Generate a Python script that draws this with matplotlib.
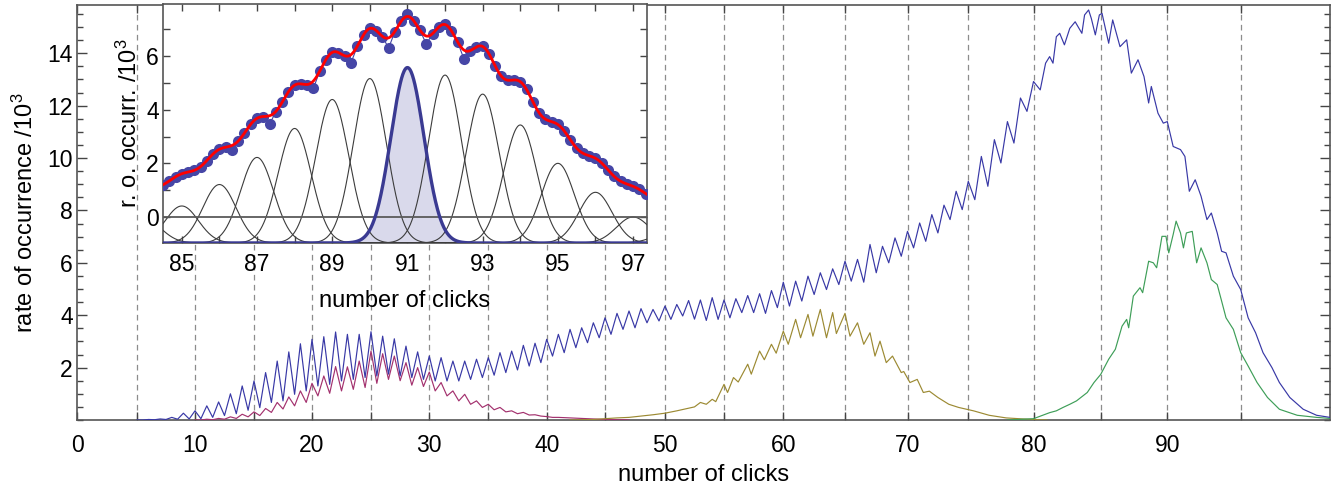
import numpy as np
import matplotlib
matplotlib.use("Agg")
import matplotlib.pyplot as plt
from matplotlib.ticker import FixedLocator, MultipleLocator

plt.rcParams['font.family'] = ['Liberation Sans', 'DejaVu Sans']
plt.rcParams['mathtext.fontset'] = 'custom'
plt.rcParams['mathtext.rm'] = 'Liberation Sans'
plt.rcParams['mathtext.it'] = 'Liberation Sans'

# ---------------- main-panel data (rate of occurrence / 10^3) ----------------
blue_x1 = np.arange(5.0, 81.0, 0.5)
blue_y1 = [0.0, 0.0, 0.02, 0.01, 0.04, 0.02, 0.10, 0.03, 0.26, 0.04,
           0.35, 0.05, 0.54, 0.10, 0.69, 0.17, 1.00, 0.24, 1.30, 0.37,
           1.49, 0.47, 1.81, 0.67, 2.25, 0.73, 2.60, 0.98, 2.91, 1.11,
           3.08, 1.30, 3.18, 1.36, 3.36, 1.49, 3.27, 1.55, 3.27, 1.62,
           3.37, 1.68, 3.20, 1.75, 3.10, 1.68, 2.82, 1.62, 2.60, 1.55,
           2.44, 1.49, 2.38, 1.49, 2.25, 1.49, 2.25, 1.55, 2.32, 1.62,
           2.38, 1.71, 2.57, 1.81, 2.63, 1.91, 2.85, 2.06, 2.93, 2.19,
           3.08, 2.44, 3.27, 2.57, 3.46, 2.76, 3.52, 2.95, 3.71, 3.14,
           3.90, 3.27, 4.07, 3.46, 4.16, 3.52, 4.25, 3.71, 4.22, 3.78,
           4.35, 3.84, 4.41, 3.97, 4.56, 3.85, 4.58, 3.80, 4.67, 3.84,
           4.58, 3.90, 4.63, 4.10, 4.75, 4.10, 4.82, 4.07, 4.94, 4.29,
           5.26, 4.35, 5.30, 4.54, 5.49, 4.79, 5.62, 4.98, 5.77, 5.17,
           6.06, 5.30, 6.13, 5.26, 6.70, 5.62, 6.63, 6.00, 6.95, 6.25,
           7.20, 6.57, 7.52, 6.82, 7.84, 7.14, 8.20, 7.65, 8.73, 8.03,
           9.11, 8.41, 10.06, 8.92, 10.70, 9.81, 11.39, 10.57, 12.29, 11.78,
           12.92, 12.60]
blue_x2 = [80.9, 81.2, 81.45, 81.7, 81.95, 82.3, 82.7, 83.1, 83.6, 83.8,
           84.1, 84.3, 84.6, 84.9, 85.1, 85.6, 85.9, 86.45, 86.95, 87.3,
           87.8, 88.25, 88.6, 88.8, 89.3, 89.7, 90.0, 90.4, 90.9, 91.2,
           91.5, 91.9, 92.3, 92.7, 93.0, 93.4, 93.7, 94.0, 94.5, 95.0,
           95.5, 96.0, 96.5, 97.1, 97.6, 98.3, 99.2, 100.1, 101.0]
blue_y2 = [13.62, 13.87, 13.62, 14.63, 14.76, 14.32, 14.95, 15.20, 14.76, 15.46,
           15.65, 15.33, 14.70, 15.46, 15.52, 14.38, 15.27, 14.25, 14.51, 13.24,
           13.75, 13.11, 12.10, 12.73, 11.71, 11.33, 11.39, 10.44, 10.32, 10.06,
           8.73, 9.17, 8.54, 7.65, 7.90, 7.14, 6.44, 6.38, 5.49, 4.98,
           3.90, 3.33, 2.57, 2.00, 1.43, 0.86, 0.41, 0.18, 0.10]

red_x = np.arange(10.0, 47.5, 0.5)
red_y = [0.0, 0.0, 0.03, 0.01, 0.06, 0.03, 0.12, 0.06, 0.22, 0.12,
         0.31, 0.17, 0.44, 0.29, 0.67, 0.42, 0.88, 0.54, 1.11, 0.67,
         1.40, 0.92, 1.68, 1.02, 2.04, 1.11, 2.03, 1.17, 2.25, 1.24,
         2.63, 1.40, 2.53, 1.55, 2.44, 1.50, 2.19, 1.33, 2.00, 1.28,
         1.83, 1.11, 1.43, 0.92, 1.11, 0.73, 0.98, 0.60, 0.73, 0.48,
         0.60, 0.39, 0.48, 0.31, 0.35, 0.24, 0.29, 0.19, 0.20, 0.15,
         0.13, 0.10, 0.10, 0.09, 0.08, 0.07, 0.06, 0.05, 0.04, 0.03,
         0.02, 0.02, 0.01, 0.01, 0.0]

olive_x = [42, 44, 45, 46, 47, 48, 49, 50, 51, 52, 52.5, 53, 53.5, 54, 54.3,
           55, 55.3, 55.8, 56.2, 57, 57.3, 58, 58.4, 59, 59.4, 60, 60.4, 61,
           61.4, 62, 62.4, 63, 63.5, 64, 64.3, 65, 65.4, 66, 66.5, 67, 67.4,
           67.8, 68.3, 68.8, 69.5, 69.7, 70.2, 70.8, 71.3, 71.8, 72.5, 73.4,
           74.2, 75.4, 76.6, 77.9, 79.2, 80, 81]
olive_y = [0.0, 0.02, 0.05, 0.08, 0.10, 0.15, 0.20, 0.26, 0.35, 0.45, 0.50,
           0.67, 0.60, 0.79, 0.70, 1.36, 1.05, 1.62, 1.45, 2.13, 1.75, 2.63,
           2.30, 2.89, 2.55, 3.39, 2.89, 3.84, 3.14, 4.03, 3.20, 4.22, 3.14,
           4.10, 3.30, 4.07, 3.20, 3.71, 2.89, 3.33, 2.44, 3.01, 2.19, 2.44,
           1.81, 1.85, 1.43, 1.55, 1.05, 1.10, 0.86, 0.60, 0.48, 0.35, 0.18,
           0.08, 0.04, 0.02, 0.0]

green_x = [78, 80, 81.2, 81.7, 82.2, 82.7, 83.2, 84.0, 84.5, 85.0, 85.6, 86.1,
           86.6, 86.95, 87.1, 87.45, 87.95, 88.15, 88.6, 88.95, 89.2, 89.6,
           89.9, 90.1, 90.4, 90.6, 90.9, 91.1, 91.3, 91.7, 92.0, 92.3, 92.7,
           93.0, 93.4, 93.7, 94.0, 94.5, 95.0, 95.5, 96.1, 96.8, 97.6, 98.8,
           100.1, 101.0]
green_y = [0.0, 0.05, 0.28, 0.35, 0.48, 0.60, 0.73, 1.05, 1.43, 1.74, 2.32,
           2.70, 3.58, 3.84, 3.52, 4.73, 5.05, 4.86, 6.06, 6.00, 5.81, 7.01,
           7.01, 6.38, 7.08, 7.59, 7.14, 6.57, 7.14, 7.20, 6.00, 6.57, 6.00,
           5.36, 5.17, 4.54, 3.90, 3.46, 2.57, 2.06, 1.43, 0.86, 0.41, 0.18,
           0.10, 0.06]

main_xticks = list(range(0, 100, 10))
main_xminor = list(range(5, 100, 10))
main_yticks = list(range(2, 16, 2))
grid_lines = list(range(5, 100, 5))

# ---------------- inset data ----------------
inset_x = 84.5 + np.arange(78) / 6.0
inset_y = [1.20, 1.34, 1.50,
           1.61, 1.67, 1.74, 1.85, 2.10, 2.36,
           2.53, 2.60, 2.50, 2.83, 3.13, 3.46,
           3.68, 3.74, 3.45, 3.93, 4.27, 4.67,
           4.92, 4.96, 4.93, 4.80, 5.43, 5.87,
           6.14, 6.13, 6.00, 5.75, 6.36, 6.79,
           7.03, 6.95, 6.72, 6.30, 6.91, 7.29,
           7.55, 7.31, 6.96, 6.45, 6.82, 7.08,
           7.18, 6.95, 6.52, 5.90, 6.19, 6.34,
           6.36, 6.09, 5.62, 5.24, 5.09, 5.11,
           5.05, 4.76, 4.30, 3.88, 3.64, 3.55,
           3.45, 3.21, 2.87, 2.56, 2.37, 2.28,
           2.19, 2.01, 1.76, 1.51, 1.33, 1.23,
           1.14, 1.03, 0.87]
peak_centers = list(range(84, 99))
peak_tops = [-0.07, 0.41, 1.21, 2.22, 3.30, 4.38, 5.16, 5.57, 5.29, 4.58,
             3.43, 2.00, 0.92, 0.00, -0.57]
peak_width = 0.44
peak_base = -0.97
highlight_center = 91
inset_xticks = list(range(85, 98, 2))
inset_xminor = list(range(86, 97, 2))
inset_yticks = [0, 2, 4, 6]
inset_yminor = [-1, 1, 3, 5, 7]

# ---------------- figure ----------------
W, H = 1343, 490
fig = plt.figure(figsize=(W / 100, H / 100), dpi=100)
ax = fig.add_axes([77 / W, 1 - 420 / H, 1253 / W, 415 / H])

# the click axis of the main panel is not uniformly spaced
scale_vals = [-20, 0, 5, 10, 15, 20, 25, 30, 35, 40, 45, 50, 55, 60, 65, 70,
              75, 80, 85, 90, 95, 101, 130]
scale_pos = [-158, 77, 137, 195, 254, 312, 371, 429.3, 488.3, 546.7, 605, 665,
             724, 783.3, 845, 907.5, 968.3, 1033.5, 1100.7, 1167.3, 1240.7,
             1330, 1762]


def fwd(x):
    return np.interp(np.asarray(x, float), scale_vals, scale_pos)


def inv(p):
    return np.interp(np.asarray(p, float), scale_pos, scale_vals)


ax.set_xscale('function', functions=(fwd, inv))
ax.set_xlim(0, 101)
ax.set_ylim(0, 15.84)

for v in grid_lines:
    ax.axvline(v, color='#8c8c8c', lw=0.9, ls=(0, (4.5, 3.5)), zorder=1)

lw = 0.85
kw = dict(lw=lw, solid_joinstyle='round')
ax.plot(red_x, red_y, color='#A3316E', zorder=3, **kw)
ax.plot(olive_x, olive_y, color='#9C8A33', zorder=3, **kw)
ax.plot(green_x, green_y, color='#3E9E58', zorder=3, **kw)
ax.plot(np.concatenate([blue_x1, blue_x2]), np.concatenate([blue_y1, blue_y2]),
        color='#3838A6', zorder=4, **kw)

ax.xaxis.set_major_locator(FixedLocator(main_xticks))
ax.xaxis.set_minor_locator(FixedLocator(main_xminor))
ax.yaxis.set_major_locator(FixedLocator(main_yticks))
ax.yaxis.set_minor_locator(MultipleLocator(0.5))
ax.tick_params(which='both', direction='in', top=True, right=True, color='#444444', width=1)
ax.tick_params(axis='x', which='both', length=6, labelsize=16.5, pad=10)
ax.tick_params(axis='y', which='major', length=7.5, labelsize=16.5, pad=3)
ax.tick_params(axis='y', which='minor', length=4)
for s in ax.spines.values():
    s.set_color('#555555')
    s.set_linewidth(1.2)
ax.set_xlabel('number of clicks', fontsize=17, labelpad=5)
ax.set_ylabel('rate of occurrence /10$^3$', fontsize=17, labelpad=7)

# ---------------- inset ----------------
axin = fig.add_axes([163 / W, 1 - 243 / H, 484 / W, 239 / H])
axin.set_xlim(84.5, 97.37)
axin.set_ylim(-0.97, 7.94)
xs = np.linspace(84.5, 97.37, 1200)
fit = np.zeros_like(xs)
for c, p in zip(peak_centers, peak_tops):
    shape = np.exp(-(xs - c) ** 2 / (2 * peak_width ** 2))
    comp = peak_base + (p - peak_base) * shape
    fit += (p - peak_base) * shape
    if c == highlight_center:
        axin.fill_between(xs, peak_base, comp, color='#D9D9EB', lw=0, zorder=2)
        axin.plot(xs, comp, color='#3A3A92', lw=2.4, zorder=5)
    else:
        axin.plot(xs, comp, color='#3C3C3C', lw=0.8, zorder=3)
axin.axhline(0, color='#5a5a5a', lw=1.3, zorder=4)
axin.plot(inset_x, inset_y, '-', color='#4343A3', lw=0.8, zorder=6)
axin.plot(inset_x, inset_y, 'o', color='#4646A6', ms=8, mec='none', zorder=6)
axin.plot(xs, fit, color='#FF0000', lw=2.0, zorder=7)

axin.xaxis.set_major_locator(FixedLocator(inset_xticks))
axin.xaxis.set_minor_locator(FixedLocator(inset_xminor))
axin.yaxis.set_major_locator(FixedLocator(inset_yticks))
axin.yaxis.set_minor_locator(FixedLocator(inset_yminor))
axin.tick_params(which='both', direction='in', top=True, right=True, color='#444444', width=1)
axin.tick_params(which='major', length=5)
axin.tick_params(which='minor', length=5)
axin.tick_params(axis='x', labelsize=16.5, pad=7)
axin.tick_params(axis='y', labelsize=16.5, pad=3)
for s in axin.spines.values():
    s.set_color('#555555')
    s.set_linewidth(1.2)
axin.set_xlabel('number of clicks', fontsize=17, labelpad=10)
axin.set_ylabel('r. o. occurr. /10$^3$', fontsize=17, labelpad=3)

fig.savefig('out.png', dpi=100)
